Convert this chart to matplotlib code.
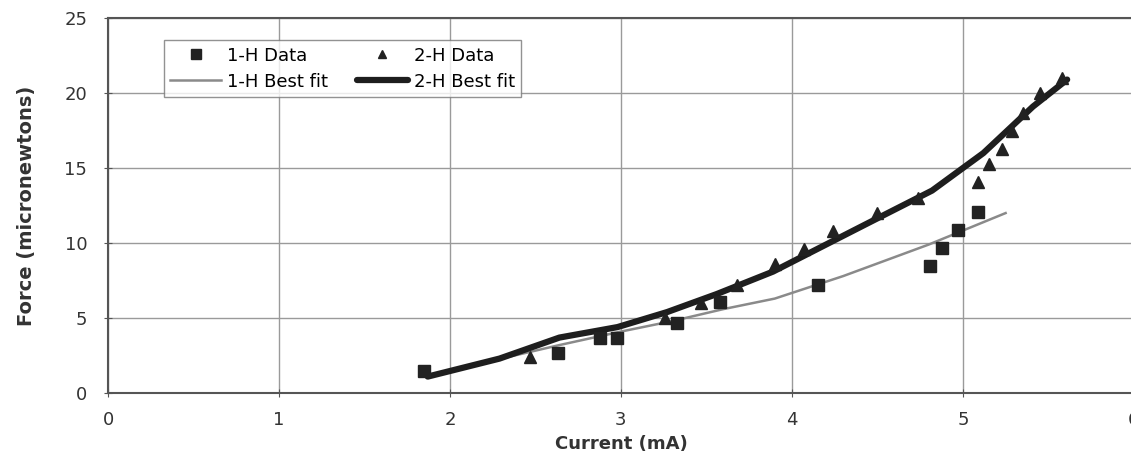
import matplotlib
matplotlib.use("Agg")
import matplotlib.pyplot as plt

plt.rcParams['font.family'] = ['DejaVu Sans']

# 1-H measurements (current mA, force micronewtons)
h1_current = [1.85, 2.63, 2.88, 2.98, 3.33, 3.58, 4.15, 4.81, 4.88, 4.97, 5.09]
h1_force = [1.5, 2.7, 3.7, 3.7, 4.7, 6.1, 7.2, 8.5, 9.7, 10.9, 12.1]

# 2-H measurements
h2_current = [2.47, 3.26, 3.47, 3.68, 3.90, 4.07, 4.24, 4.50, 4.74,
              5.09, 5.15, 5.23, 5.29, 5.35, 5.45, 5.58]
h2_force = [2.4, 5.0, 6.0, 7.2, 8.6, 9.6, 10.8, 12.0, 13.0,
            14.1, 15.3, 16.3, 17.5, 18.7, 20.0, 21.0]

# best-fit curves
fit1_current = [1.87, 2.3, 2.64, 3.0, 3.3, 3.6, 3.9, 4.3, 4.8, 5.25]
fit1_force = [1.1, 2.3, 3.2, 4.1, 4.8, 5.6, 6.3, 7.8, 9.9, 12.0]

fit2_current = [1.87, 2.29, 2.64, 2.98, 3.27, 3.56, 3.89, 4.44, 4.82, 5.12, 5.41, 5.61]
fit2_force = [1.1, 2.3, 3.7, 4.4, 5.4, 6.6, 8.1, 11.3, 13.5, 16.0, 19.1, 20.9]

x_ticks = [0, 1, 2, 3, 4, 5, 6]
y_ticks = [0, 5, 10, 15, 20, 25]

fig = plt.figure(figsize=(11.31, 4.63), dpi=100)
ax = fig.add_axes([0.0955, 0.151, 0.907, 0.81])

ax.plot(h1_current, h1_force, 's', color='#222222', markersize=9, label='1-H Data', zorder=4)
ax.plot(fit1_current, fit1_force, '-', color='#8a8a8a', lw=1.8, label='1-H Best fit', zorder=3)
ax.plot(h2_current, h2_force, '^', color='#222222', markersize=8, label='2-H Data', zorder=4)
ax.plot(fit2_current, fit2_force, '-', color='#1e1e1e', lw=4.5, label='2-H Best fit', zorder=3,
        solid_capstyle='round')

ax.set_xlim(0, 6)
ax.set_ylim(0, 25)
ax.set_xticks(x_ticks)
ax.set_yticks(y_ticks)
ax.grid(True, color='#9a9a9a', lw=1.0)
ax.set_axisbelow(True)

for side in ['left', 'bottom', 'top']:
    ax.spines[side].set_color('#555555')
    ax.spines[side].set_linewidth(1.5)
ax.spines['right'].set_visible(False)
ax.tick_params(direction='inout', length=6, color='#555555', labelsize=13,
               labelcolor='#333333')
ax.tick_params(axis='y', pad=12)
ax.tick_params(axis='x', pad=10)

ax.set_xlabel('Current (mA)', fontsize=13, fontweight='bold', color='#333333', labelpad=4)
ax.set_ylabel('Force (micronewtons)', fontsize=14, fontweight='bold', color='#333333', labelpad=20)

leg = ax.legend(ncol=2, loc='upper left', bbox_to_anchor=(0.0546, 0.941), borderaxespad=0,
                fontsize=13, frameon=True, fancybox=False, edgecolor='#777777',
                handlelength=2.8, markerscale=0.8, columnspacing=1.6, handletextpad=0.35,
                borderpad=0.35, labelspacing=0.45)
leg.get_frame().set_linewidth(1.0)

fig.savefig('out.png', dpi=100)
